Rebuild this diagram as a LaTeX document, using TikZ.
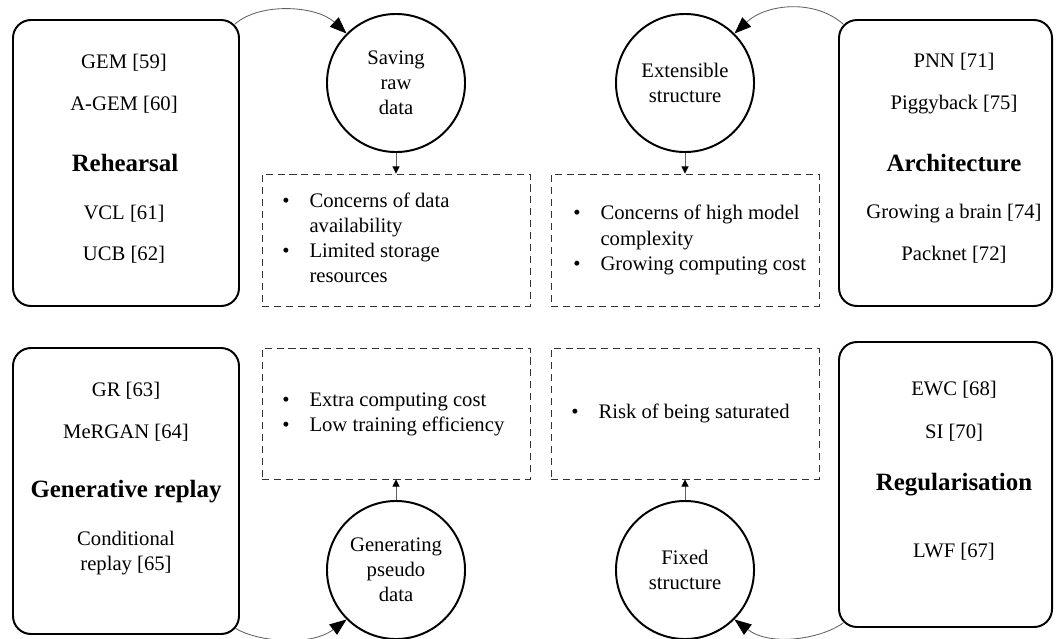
\documentclass[tikz,border=0pt]{standalone}
\usepackage{fontspec}
\setmainfont{Liberation Serif}
\usetikzlibrary{arrows.meta,fit}
\newcommand{\txtsize}{\fontsize{14.7}{17.8}\selectfont}
\newcommand{\headsize}{\fontsize{17.7}{21}\selectfont\bfseries}
\tikzset{>=stealth}
\tikzset{
  catbox/.style={draw, line width=1.4pt, rounded corners=0.45cm, inner sep=0pt},
  notebox/.style={draw=black!80, line width=0.65pt, dash pattern=on 5pt off 3.5pt, inner sep=0pt},
  idea/.style={draw, circle, line width=1.4pt, minimum size=3.45cm, inner sep=0pt, align=center, font=\txtsize},
  ref/.style={font=\txtsize, align=center, inner sep=0pt},
  head/.style={font=\headsize, inner sep=0pt},
  notes/.style={anchor=west, inner sep=0pt, font=\txtsize},
  link/.style={draw=gray!75!black, line width=0.6pt, -{Triangle[length=0.42cm,width=0.32cm,color=black]}},
  feed/.style={draw=gray!75!black, line width=0.6pt, -{Triangle[length=0.18cm,width=0.18cm,color=black]}}
}
\begin{document}
\begin{tikzpicture}[x=0.025cm, y=-0.025cm]
    \useasboundingbox (0,0) rectangle (1056,638);
    % category boxes
    \node[catbox, fit={(13,20) (239,306)}] (reh) {};
    \node[catbox, fit={(839,20) (1052,306)}] (arch) {};
    \node[catbox, fit={(13,348) (239,634)}] (gen) {};
    \node[catbox, fit={(839,342) (1052,627)}] (reg) {};
    % methods
    \node[ref] (gem) at (124,63) {GEM [59]};
    \node[ref] (agem) at (124,105) {A-GEM [60]};
    \node[head] (rehearsal) at (125,163) {Rehearsal};
    \node[ref] (vcl) at (124,214) {VCL [61]};
    \node[ref] (ucb) at (124,255) {UCB [62]};
    \node[ref] (pnn) at (954,62) {PNN [71]};
    \node[ref] (piggy) at (954,105) {Piggyback [75]};
    \node[head] (architecture) at (954,163) {Architecture};
    \node[ref] (brain) at (954,214) {Growing a brain [74]};
    \node[ref] (packnet) at (954,255) {Packnet [72]};
    \node[ref] (gr) at (126,391) {GR [63]};
    \node[ref] (mergan) at (126,433) {MeRGAN [64]};
    \node[head] (generative) at (126,492) {Generative replay};
    \node[ref] (cond) at (126,553) {Conditional\\replay [65]};
    \node[ref] (ewc) at (954,390) {EWC [68]};
    \node[ref] (si) at (954,433) {SI [70]};
    \node[head] (regular) at (954,485) {Regularisation};
    \node[ref] (lwf) at (954,552) {LWF [67]};
    % strategies
    \node[idea] (save) at (396,83) {Saving\\raw\\data};
    \node[idea] (ext) at (685,83) {Extensible\\structure};
    \node[idea] (pseudo) at (396,570) {Generating\\pseudo\\data};
    \node[idea] (fixed) at (685,570) {Fixed\\structure};
    % drawbacks
    \node[notebox, fit={(262,174) (530,306)}] (box1) {};
    \node[notebox, fit={(551,174) (819,306)}] (box2) {};
    \node[notebox, fit={(262,348) (530,479)}] (box3) {};
    \node[notebox, fit={(551,348) (819,479)}] (box4) {};
    \node[notes] (n1) at (282,240) {\begin{tabular}{@{}l@{\hspace{0.5cm}}l@{}}
        \textbullet & Concerns of data\\ & availability\\
        \textbullet & Limited storage\\ & resources\end{tabular}};
    \node[notes] (n2) at (573,240) {\begin{tabular}{@{}l@{\hspace{0.5cm}}l@{}}
        \textbullet & Concerns of high model\\ & complexity\\
        \textbullet & Growing computing cost\end{tabular}};
    \node[notes] (n3) at (282,414) {\begin{tabular}{@{}l@{\hspace{0.5cm}}l@{}}
        \textbullet & Extra computing cost\\
        \textbullet & Low training efficiency\end{tabular}};
    \node[notes] (n4) at (571,413) {\begin{tabular}{@{}l@{\hspace{0.5cm}}l@{}}
        \textbullet & Risk of being saturated\end{tabular}};
    % connectors
    \draw[link] ([shift={(-5,5)}]reh.north east) .. controls +(25,-22) and +(-30,-28) .. (save.135);
    \draw[link] ([shift={(5,5)}]arch.north west) .. controls +(-28,-25) and +(32,-30) .. (ext.45);
    \draw[link] ([shift={(-5,-7)}]gen.south east) .. controls +(20,13) and +(-37,28) .. (pseudo.225);
    \draw[link] ([shift={(5,-5)}]reg.south west) .. controls +(-20,15) and +(37,28) .. (fixed.315);
    \draw[feed] (save) -- (box1);
    \draw[feed] (ext) -- (box2);
    \draw[feed] (pseudo) -- (box3);
    \draw[feed] (fixed) -- (box4);
\end{tikzpicture}
\end{document}
